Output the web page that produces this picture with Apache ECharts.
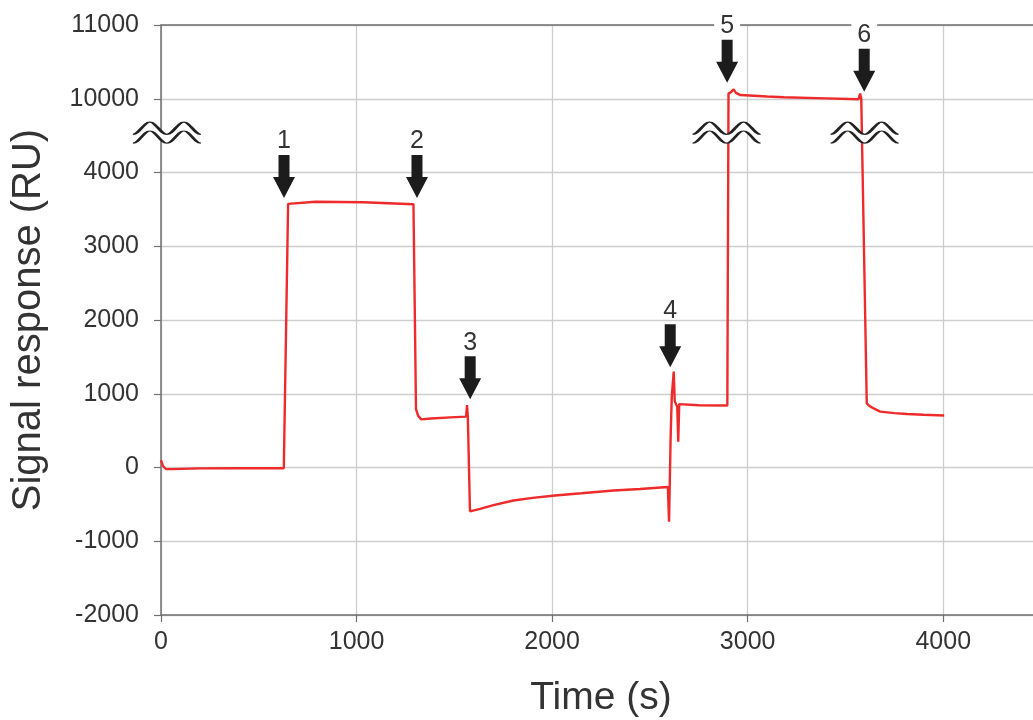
<!DOCTYPE html>
<html>
<head>
<meta charset="utf-8">
<script src="https://cdn.jsdelivr.net/npm/echarts/dist/echarts.min.js"></script>
<style>html,body{margin:0;padding:0;background:#fff}#chart{width:1033px;height:720px}</style>
</head>
<body>
<div id="chart"></div>
<script>
// ---- data (time in s, signal in RU) ----
const timeS = [0, 10, 25, 60, 200, 400, 628, 650, 790, 1034, 1291, 1296, 1304, 1315, 1331, 1380, 1480, 1560,
  1565, 1569, 1580, 1632, 1700, 1803, 1900, 2015, 2150, 2314, 2450, 2592, 2598, 2606, 2612, 2622, 2627, 2633, 2640, 2645, 2650, 2660, 2750, 2896,
  2902, 2915, 2928, 2940, 2962, 3100, 3184, 3400, 3567, 3575, 3581, 3588, 3609, 3625, 3644, 3678, 3750, 3815, 3900, 4005];
const signalRU = [100, 20, -20, -22, -12, -10, -10, 3575, 3604, 3596, 3569, 3560, 790, 700, 653, 665, 680, 690,
  845, 690, -594, -561, -510, -448, -412, -380, -350, -312, -292, -265, -735, 400, 970, 1300, 900, 880, 820, 350, 860, 850, 845, 840,
  10070, 10090, 10128, 10080, 10050, 10030, 10020, 10005, 9993, 10070, 9995, 9990, 870, 830, 802, 757, 738, 725, 715, 705];

const yTickLabels = ['-2000', '-1000', '0', '1000', '2000', '3000', '4000', '10000', '11000'];
const xTickLabels = ['0', '1000', '2000', '3000', '4000'];

const arrowLabels = ['1', '2', '3', '4', '5', '6'];
const arrowTimes = [629, 1309, 1581, 2604, 2895, 3596];
const arrowTipRU = [3655, 3655, 924, 1359, 10218, 10095];

const breakTimes = [30, 2892, 3598];
const breakLevel = 4540; // axis position of the break (between 4000 and 10000)

// ---- broken axis mapping: values above the gap are shifted down by 5000 ----
const GAP = 5000;
const disp = v => (v >= 7000 ? v - GAP : v);

const lineData = timeS.map((t, i) => [t, disp(signalRU[i])]);
const arrowData = arrowTimes.map((t, i) => ({
  value: [t, disp(arrowTipRU[i])],
  name: arrowLabels[i],
  label: i >= 4 ? { backgroundColor: '#fff', padding: [0, 6] } : {}
}));
const breakData = breakTimes.map(t => [t, breakLevel]);

const arrowPath = 'path://M5,0 L16,0 L16,22 L21.5,22 L10.5,43 L-0.5,22 L5,22 Z';
const waveTop = 'M0,12 C6.19,12 10.81,1 17,1 C23.19,1 27.81,12 34,12 C40.19,12 44.81,1 51,1 C57.19,1 61.81,12 68,12';
const waveStroke = 'path://' + waveTop +
  ' M0,20 C6.19,20 10.81,9 17,9 C23.19,9 27.81,20 34,20 C40.19,20 44.81,9 51,9 C57.19,9 61.81,20 68,20';
const waveFill = 'path://' + waveTop +
  ' L68,20 C61.81,20 57.19,9 51,9 C44.81,9 40.19,20 34,20 C27.81,20 23.19,9 17,9 C10.81,9 6.19,20 0,20 Z';

const FONT = "'Liberation Sans', Arial, Helvetica, sans-serif";
const AXIS = '#707070';
const GRIDC = '#cdcdcd';

const chart = echarts.init(document.getElementById('chart'), null, { renderer: 'canvas' });
chart.setOption({
  animation: false,
  backgroundColor: '#fff',
  textStyle: { fontFamily: FONT },
  grid: { left: 161, right: -8, top: 25, bottom: 105, containLabel: false, outerBoundsMode: 'none' },
  xAxis: [{
    type: 'value', min: 0, max: 4500, interval: 1000,
    name: 'Time (s)', nameLocation: 'middle', nameGap: 64,
    nameTextStyle: { fontSize: 39, color: '#333', fontFamily: FONT },
    axisLine: { show: true, onZero: false, lineStyle: { color: AXIS, width: 1.5 } },
    axisTick: { show: true, length: 7, lineStyle: { color: AXIS, width: 1.2 } },
    axisLabel: { fontSize: 25, color: '#333', margin: 15, fontFamily: FONT, showMaxLabel: false,
      formatter: v => (v % 1000 === 0 ? xTickLabels[v / 1000] : '') },
    splitLine: { show: true, lineStyle: { color: GRIDC, width: 1.3 } }
  }, {
    type: 'value', min: 0, max: 4500, position: 'top',
    axisLine: { show: true, onZero: false, lineStyle: { color: AXIS, width: 1.5 } },
    axisTick: { show: false }, axisLabel: { show: false }, splitLine: { show: false }
  }],
  yAxis: {
    type: 'value', min: -2000, max: 6000, interval: 1000,
    name: 'Signal response (RU)', nameLocation: 'middle', nameGap: 112,
    nameTextStyle: { fontSize: 40, color: '#333', fontFamily: FONT },
    axisLine: { show: true, onZero: false, lineStyle: { color: AXIS, width: 1.5 } },
    axisTick: { show: true, length: 7, lineStyle: { color: AXIS, width: 1.2 } },
    axisLabel: { fontSize: 25, color: '#333', margin: 22, fontFamily: FONT,
      formatter: v => yTickLabels[Math.round((v + 2000) / 1000)] },
    splitLine: { show: true, lineStyle: { color: GRIDC, width: 1.3 } }
  },
  series: [
    {
      type: 'line', data: lineData, showSymbol: false, symbol: 'none', z: 3,
      lineStyle: { color: '#ee2a2a', width: 2.4 }
    },
    {
      type: 'scatter', data: breakData, symbol: waveFill, symbolSize: [68, 21], z: 6,
      itemStyle: { color: '#fff', borderWidth: 0, opacity: 1 }, silent: true
    },
    {
      type: 'scatter', data: breakData, symbol: waveStroke, symbolSize: [68, 21], z: 7,
      itemStyle: { color: 'rgba(0,0,0,0)', borderColor: '#222', borderWidth: 2, opacity: 1 }, silent: true
    },
    {
      type: 'scatter', data: arrowData, symbol: arrowPath, symbolSize: [22, 43], symbolOffset: [0, '-50%'], z: 8,
      itemStyle: { color: '#1c1c1c', opacity: 1 },
      label: { show: true, position: 'top', distance: 1, formatter: p => p.name,
        fontSize: 25, color: '#333', fontFamily: FONT }
    }
  ]
});
</script>
</body>
</html>
